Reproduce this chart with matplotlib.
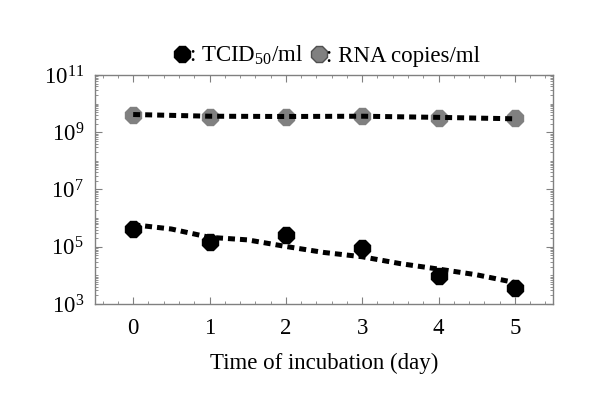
import matplotlib
matplotlib.use("Agg")
import matplotlib.pyplot as plt
from matplotlib.lines import Line2D
from matplotlib.ticker import LogLocator, MultipleLocator, FixedLocator, NullFormatter

plt.rcParams['font.family'] = ['Liberation Serif', 'DejaVu Serif']
plt.rcParams['mathtext.fontset'] = 'custom'
plt.rcParams['mathtext.rm'] = 'Liberation Serif'
plt.rcParams['mathtext.it'] = 'Liberation Serif:italic'

days = [0, 1, 2, 3, 4, 5]
tcid = [10**5.62, 10**5.18, 10**5.42, 10**4.94, 10**3.98, 10**3.57]
rna = [10**9.60, 10**9.54, 10**9.54, 10**9.56, 10**9.50, 10**9.50]

fit_x = [0, 0.5, 1, 1.5, 2, 2.5, 3, 3.5, 4, 4.5, 5]
tcid_fit = [10**v for v in [5.77, 5.62, 5.33, 5.24, 5.01, 4.80, 4.65, 4.41, 4.22, 4.02, 3.75]]
rna_fit_x = [0, 1, 2, 3, 4, 5]
rna_fit = [10**v for v in [9.62, 9.56, 9.55, 9.56, 9.52, 9.47]]

fig = plt.figure(figsize=(6.0, 4.15), dpi=100)
ax = fig.add_axes([95/600, 1-304/415, (553-95)/600, (304-75)/415])

ax.plot(days, rna, linestyle='none', marker='8', markersize=12, color='#808080', zorder=2)
ax.plot(days, tcid, linestyle='none', marker='8', markersize=12, color='black', zorder=2)
ax.plot(rna_fit_x, rna_fit, linestyle=(0, (1.4, 1.0)), linewidth=3.6, color='black',
        dash_capstyle='butt', zorder=3)
ax.plot(fit_x, tcid_fit, linestyle=(0, (1.4, 1.0)), linewidth=3.6, color='black',
        dash_capstyle='butt', zorder=3)

ax.set_yscale('log')
ax.set_ylim(1e3, 1e11)
ax.set_xlim(-0.5, 5.5)
ax.yaxis.set_major_locator(FixedLocator([1e3, 1e5, 1e7, 1e9, 1e11]))
ax.yaxis.set_minor_locator(LogLocator(base=10, subs=range(1, 10), numticks=30))
ax.yaxis.set_minor_formatter(NullFormatter())
ax.set_yticklabels([r'$10^{3}$', r'$10^{5}$', r'$10^{7}$', r'$10^{9}$', r'$10^{11}$'])
ax.xaxis.set_major_locator(MultipleLocator(1))
ax.xaxis.set_minor_locator(MultipleLocator(0.2))

for s in ax.spines.values():
    s.set_color('#808080')
    s.set_linewidth(1.0)
ax.tick_params(which='both', direction='in', top=True, right=True, colors='#808080',
               labelcolor='black', labelsize=16.5)
ax.tick_params(which='major', length=5)
ax.tick_params(which='minor', length=2.5)
ax.tick_params(axis='x', pad=10)
ax.tick_params(axis='y', pad=8)

ax.set_xlabel('Time of incubation (day)', fontsize=16.5, labelpad=10)

handles = [Line2D([], [], linestyle='none', marker='8', markersize=12, color='black'),
           Line2D([], [], linestyle='none', marker='8', markersize=12, color='#808080',
                  markeredgecolor='#505050')]
labels = [': TCID$_{50}$/ml', ': RNA copies/ml']
ax.legend(handles, labels, loc='lower center', bbox_to_anchor=(0.5, 1.0), ncol=2,
          frameon=False, fontsize=16.5, handletextpad=-0.3, columnspacing=0.1,
          handlelength=1.2, borderaxespad=-0.05)

fig.savefig('out.png', dpi=100)
